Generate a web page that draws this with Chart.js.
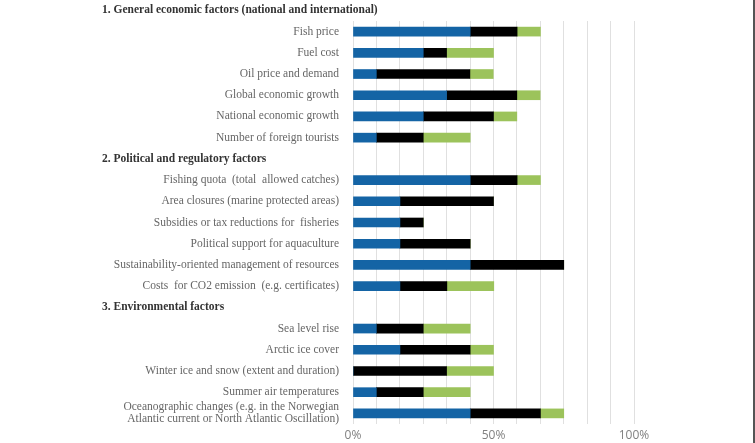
<!DOCTYPE html>
<html>
<head>
<meta charset="utf-8">
<script src="https://cdn.jsdelivr.net/npm/chart.js@4"></script>
<style>
  html, body { margin: 0; padding: 0; background: #fff; }
  #wrap { position: relative; width: 753px; height: 443px; border-right: 2px solid #555; }
</style>
</head>
<body>
<div id="wrap"><canvas id="chart" width="753" height="443"></canvas></div>
<script>
  // category rows; '' rows are the section headers 2 and 3
  const categories = [
    'Fish price',
    'Fuel cost',
    'Oil price and demand',
    'Global economic growth',
    'National economic growth',
    'Number of foreign tourists',
    '',
    'Fishing quota  (total  allowed catches)',
    'Area closures (marine protected areas)',
    'Subsidies or tax reductions for  fisheries',
    'Political support for aquaculture',
    'Sustainability-oriented management of resources',
    'Costs  for CO2 emission  (e.g. certificates)',
    '',
    'Sea level rise',
    'Arctic ice cover',
    'Winter ice and snow (extent and duration)',
    'Summer air temperatures',
    ['Oceanographic changes (e.g. in the Norwegian', 'Atlantic current or North Atlantic Oscillation)']
  ];
  const headers = [
    { row: -1, text: '1. General economic factors (national and international)' },
    { row: 6, text: '2. Political and regulatory factors' },
    { row: 13, text: '3. Environmental factors' }
  ];

  // shares of respondents, %
  const blueVals  = [41.7, 25, 8.3, 33.3, 25, 8.3, null, 41.7, 16.7, 16.7, 16.7, 41.7, 16.7, null, 8.3, 16.7, 0, 8.3, 41.7];
  const blackVals = [16.7, 8.3, 33.3, 25, 25, 16.7, null, 16.7, 33.3, 8.3, 25, 33.3, 16.7, null, 16.7, 25, 33.3, 16.7, 25];
  const greenVals = [8.3, 16.7, 8.3, 8.3, 8.3, 16.7, null, 8.3, 0, 0, 0, 0, 16.7, null, 16.7, 8.3, 16.7, 16.7, 8.3];

  const xTickLabels = ['0%', '50%', '100%'];

  const headerPlugin = {
    id: 'sectionHeaders',
    afterDraw(chart) {
      const y = chart.scales.y;
      const step = y.getPixelForValue(1) - y.getPixelForValue(0);
      const c = chart.ctx;
      c.save();
      c.font = 'bold 11.5px "Liberation Serif", serif';
      c.fillStyle = '#333';
      c.textAlign = 'left';
      c.textBaseline = 'middle';
      headers.forEach(h => {
        const py = h.row < 0 ? y.getPixelForValue(0) + step * h.row : y.getPixelForValue(h.row);
        c.fillText(h.text, 102, py);
      });
      c.restore();
    }
  };

  new Chart(document.getElementById('chart'), {
    type: 'bar',
    data: {
      labels: categories,
      datasets: [
        { label: 'blue', data: blueVals, backgroundColor: '#1464a5', barThickness: 9 },
        { label: 'black', data: blackVals, backgroundColor: '#000000', barThickness: 9 },
        { label: 'green', data: greenVals, backgroundColor: '#9cc35b', barThickness: 9 }
      ]
    },
    options: {
      indexAxis: 'y',
      responsive: false,
      animation: false,
      layout: { padding: { top: 21, right: 119, bottom: 0, left: 0 } },
      plugins: { legend: { display: false }, tooltip: { enabled: false } },
      scales: {
        x: {
          stacked: true,
          min: 0,
          max: 100,
          border: { display: false },
          grid: { color: '#e0e0e0', lineWidth: 1, drawTicks: false },
          ticks: {
            count: 13,
            padding: 4,
            autoSkip: false,
            maxRotation: 0,
            minRotation: 0,
            color: '#808080',
            font: { family: '"Open Sans", sans-serif', size: 12 },
            callback: (v, i) => (i % 6 === 0 ? xTickLabels[i / 6] : '')
          },
          afterFit: s => { s.height = 19; }
        },
        y: {
          stacked: true,
          border: { display: false },
          grid: { display: false },
          ticks: {
            autoSkip: false,
            padding: 6,
            color: '#666',
            font: { family: '"Liberation Serif", serif', size: 11.5, lineHeight: 1.05 }
          },
          afterFit: s => { s.width = 353; }
        }
      }
    },
    plugins: [headerPlugin]
  });
</script>
</body>
</html>
